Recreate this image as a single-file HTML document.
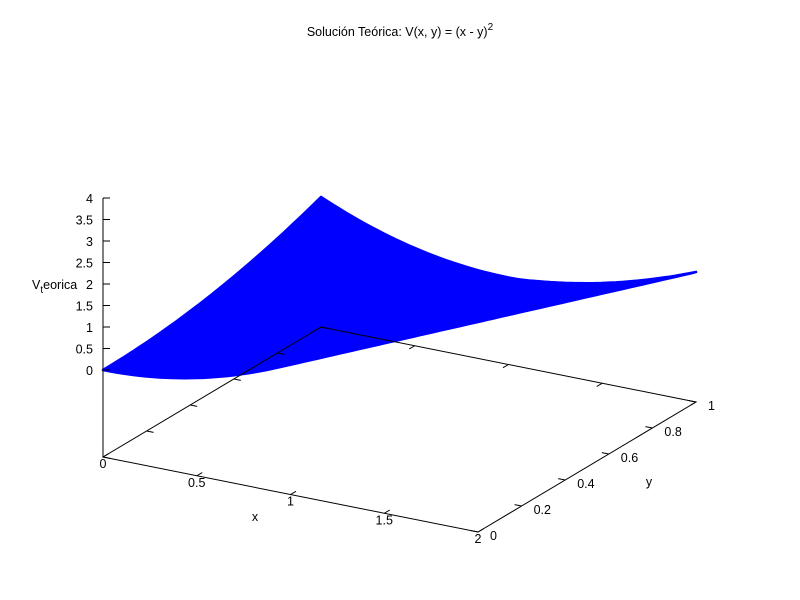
<!DOCTYPE html>
<html><head><meta charset="utf-8"><style>
body{margin:0;background:#fff}
svg{display:block;font-family:"Liberation Sans",sans-serif;font-size:12.5px}
</style></head><body>
<svg id="chart" width="800" height="600" viewBox="0 0 800 600">
<rect width="800" height="600" fill="#fff"/>
<text x="400" y="36" text-anchor="middle">Solución Teórica: V(x, y) = (x - y)<tspan dy="-6" font-size="10">2</tspan></text>
<g id="surf"></g>
<g id="axes"></g>
<text x="32" y="289">V<tspan dy="4" font-size="10">t</tspan><tspan dy="-4">eorica</tspan></text>
<text x="255" y="521" text-anchor="middle">x</text>
<text x="649" y="486" text-anchor="middle">y</text>
</svg>
<script>
const xTicks=[0,0.5,1,1.5,2];
const xTickLabels=["0","0.5","1","1.5","2"];
const yTicks=[0,0.2,0.4,0.6,0.8,1];
const yTickLabels=["0","0.2","0.4","0.6","0.8","1"];
const zTicks=[0,0.5,1,1.5,2,2.5,3,3.5,4];
const zTickLabels=["0","0.5","1","1.5","2","2.5","3","3.5","4"];
const xRange=[0,2], yRange=[0,1];
const gridN=[60,30];
function V(x,y){return (x-y)*(x-y);}
function P(x,y,z){return [103+187.5*x+218*y, 370+37.5*x-130*y-43*z];}
function B(x,y){return [103+187.5*x+218*y, 457+37.5*x-130*y];}
const NS="http://www.w3.org/2000/svg";
function mk(t,a,parent){const e=document.createElementNS(NS,t);for(const k in a)e.setAttribute(k,a[k]);parent.appendChild(e);return e;}
const surf=document.getElementById('surf'), axes=document.getElementById('axes');
let d="";
for(let i=0;i<gridN[0];i++)for(let j=0;j<gridN[1];j++){
 const x0=xRange[0]+(xRange[1]-xRange[0])*i/gridN[0],x1=xRange[0]+(xRange[1]-xRange[0])*(i+1)/gridN[0];
 const y0=yRange[0]+(yRange[1]-yRange[0])*j/gridN[1],y1=yRange[0]+(yRange[1]-yRange[0])*(j+1)/gridN[1];
 let pts=[[x0,y0],[x1,y0],[x1,y1],[x0,y1]].map(p=>P(p[0],p[1],V(p[0],p[1])));
 let a=0;for(let k=0;k<4;k++){const p=pts[k],q=pts[(k+1)%4];a+=p[0]*q[1]-q[0]*p[1];}
 if(a<0)pts.reverse();
 d+="M"+pts.map(p=>p[0].toFixed(1)+","+p[1].toFixed(1)).join("L")+"Z";
}
const sp=mk('path',{d:d,fill:'#0000ff',stroke:'#0000ff','stroke-width':'2.6','stroke-linejoin':'round'},surf);


const c=[B(0,0),B(2,0),B(2,1),B(0,1)];
const fr=mk('path',{d:"M"+c.map(p=>p.join(",")).join("L")+"Z",fill:'none',stroke:'#000','stroke-width':'1'},axes);


const zl=mk('line',{x1:103,y1:457,x2:103,y2:P(0,0,4)[1],stroke:'#000'},axes);


xTicks.forEach((v,i)=>{
 const p=B(v,0);
 const t=mk('line',{x1:p[0],y1:p[1],x2:p[0]+5.5,y2:p[1]-3.2,stroke:'#000'},axes);
 
 
 const q=B(v,1);
 const t2=mk('line',{x1:q[0],y1:q[1],x2:q[0]-5.5,y2:q[1]+3.2,stroke:'#000'},axes);
 
 
 const l=mk('text',{x:p[0],y:p[1]+11,'text-anchor':'middle'},axes);l.textContent=xTickLabels[i];
 
 
});
yTicks.forEach((v,i)=>{
 const p=B(2,v);
 const t=mk('line',{x1:p[0],y1:p[1],x2:p[0]-7,y2:p[1]-1.4,stroke:'#000'},axes);
 
 
 const q=B(0,v);
 const t2=mk('line',{x1:q[0],y1:q[1],x2:q[0]+7,y2:q[1]+1.4,stroke:'#000'},axes);
 
 
 const l=mk('text',{x:p[0]+12,y:p[1]+8},axes);l.textContent=yTickLabels[i];
 
 
});
zTicks.forEach((v,i)=>{
 const p=P(0,0,v);
 const t=mk('line',{x1:103,y1:p[1],x2:110,y2:p[1],stroke:'#000'},axes);
 
 
 const l=mk('text',{x:93,y:p[1]+5,'text-anchor':'end'},axes);l.textContent=zTickLabels[i];
 
 
});
</script>
</body></html>
